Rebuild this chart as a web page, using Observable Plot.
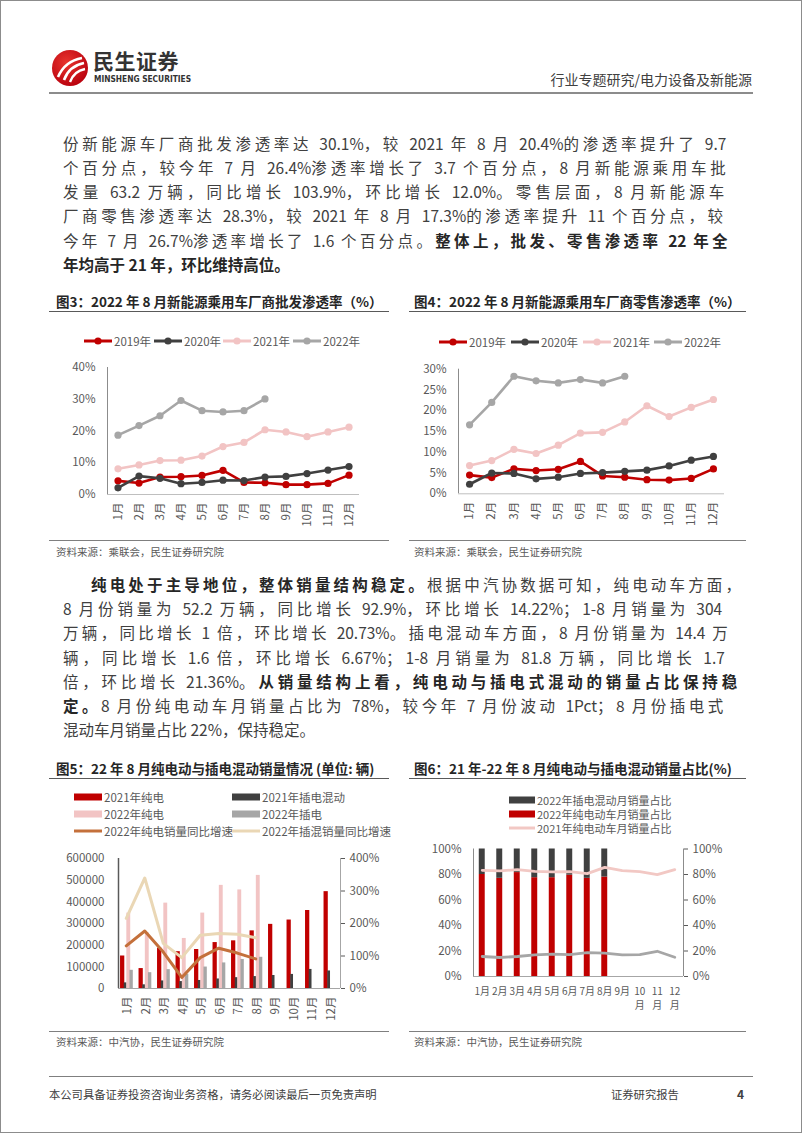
<!DOCTYPE html>
<html><head><meta charset="utf-8">
<script src="https://cdn.jsdelivr.net/npm/d3@7"></script>
<script src="https://cdn.jsdelivr.net/npm/@observablehq/plot@0.6"></script>
<style>
html,body{margin:0;padding:0;background:#fff;}
#page{position:relative;width:802px;height:1133px;box-sizing:border-box;border:1px solid #8c8c8c;overflow:hidden;font-family:"Noto Sans CJK SC","Noto Sans",sans-serif;color:#404040;}
.tl{position:absolute;left:62px;width:678px;font-size:15.5px;line-height:20px;height:20px;text-align:left;white-space:nowrap;}
.tl b{font-weight:700;color:#262626;}
.tl .a{letter-spacing:0;}
.ctitle{position:absolute;font-size:13.5px;font-weight:700;color:#262626;white-space:nowrap;line-height:18px;}
.rule{position:absolute;height:0;}
.src{position:absolute;font-size:10.5px;color:#595959;white-space:nowrap;line-height:14px;}
.leg{position:absolute;font-size:11.5px;color:#595959;white-space:nowrap;line-height:14px;height:14px;display:flex;align-items:center;}
.leg.small{font-size:11px;line-height:12px;height:12px;}
.leg svg{margin-right:2px;}
.chart{position:absolute;}
#fig6 g[aria-label="x-axis tick label"] text{font-size:10px;}
</style>
</head><body>
<div id="page">
  <svg style="position:absolute;left:48px;top:46px" width="42" height="42" viewBox="0 0 42 42">
    <defs><radialGradient id="lg" cx="0.4" cy="0.35" r="0.7"><stop offset="0" stop-color="#e8342e"/><stop offset="1" stop-color="#b8000d"/></radialGradient></defs>
    <circle cx="21" cy="21" r="18" fill="url(#lg)"/>
    <path d="M9 30 Q16 14 33 11" stroke="#fff" stroke-width="2.6" fill="none"/>
    <path d="M15 33 Q20 19 35 16" stroke="#fff" stroke-width="2.6" fill="none"/>
    <path d="M21 35 Q25 24 36 22" stroke="#fff" stroke-width="2.4" fill="none"/>
  </svg>
  <div style="position:absolute;left:92px;top:46px;font-size:21px;font-weight:700;color:#333;letter-spacing:0.5px;line-height:26px;">民生证券</div>
  <div style="position:absolute;left:93px;top:73px;font-size:8.3px;font-weight:700;color:#333;font-family:'DejaVu Sans Condensed','DejaVu Sans',sans-serif;line-height:10px;">MINSHENG SECURITIES</div>
  <div style="position:absolute;right:49px;top:68px;font-size:14px;color:#404040;line-height:20px;">行业专题研究/电力设备及新能源</div>
  <div class="rule" style="left:48px;top:91px;width:704px;border-top:2px solid #8c8c8c;"></div>

  <div class="tl j" style="top:132px">份新能源车厂商批发渗透率达 30.1%，较 2021 年 8 月 20.4%的渗透率提升了 9.7</div>
  <div class="tl j" style="top:156px">个百分点，较今年 7 月 26.4%渗透率增长了 3.7 个百分点，8 月新能源乘用车批</div>
  <div class="tl j" style="top:180px">发量 63.2 万辆，同比增长 103.9%，环比增长 12.0%。零售层面，8 月新能源车</div>
  <div class="tl j" style="top:204px">厂商零售渗透率达 28.3%，较 2021 年 8 月 17.3%的渗透率提升 11 个百分点，较</div>
  <div class="tl j" style="top:229px">今年 7 月 26.7%渗透率增长了 1.6 个百分点。<b>整体上，批发、零售渗透率 22 年全</b></div>
  <div class="tl" style="top:253px"><b>年均高于 21 年，环比维持高位。</b></div>

  <div class="ctitle" style="left:55px;top:291px">图3：2022 年 8 月新能源乘用车厂商批发渗透率（%）</div>
  <div class="ctitle" style="left:413px;top:291px">图4：2022 年 8 月新能源乘用车厂商零售渗透率（%）</div>
  <div class="rule" style="left:48px;top:310px;width:340px;border-top:1.5px solid #595959;"></div>
  <div class="rule" style="left:408px;top:310px;width:337px;border-top:1.5px solid #595959;"></div>

  <div class="rule" style="left:48px;top:539px;width:340px;border-top:1px solid #7f7f7f;"></div>
  <div class="rule" style="left:408px;top:539px;width:337px;border-top:1px solid #7f7f7f;"></div>
  <div class="src" style="left:55px;top:544px">资料来源：乘联会，民生证券研究院</div>
  <div class="src" style="left:413px;top:544px">资料来源：乘联会，民生证券研究院</div>

  <div class="tl j" style="top:573px;left:90px;width:650px"><b>纯电处于主导地位，整体销量结构稳定。</b>根据中汽协数据可知，纯电动车方面，</div>
  <div class="tl j" style="top:597px">8 月份销量为 52.2 万辆，同比增长 92.9%，环比增长 14.22%；1-8 月销量为 304</div>
  <div class="tl j" style="top:621px">万辆，同比增长 1 倍，环比增长 20.73%。插电混动车方面，8 月份销量为 14.4 万</div>
  <div class="tl j" style="top:646px">辆，同比增长 1.6 倍，环比增长 6.67%；1-8 月销量为 81.8 万辆，同比增长 1.7</div>
  <div class="tl j" style="top:670px">倍，环比增长 21.36%。<b>从销量结构上看，纯电动与插电式混动的销量占比保持稳</b></div>
  <div class="tl j" style="top:694px"><b>定。</b>8 月份纯电动车月销量占比为 78%，较今年 7 月份波动 1Pct；8 月份插电式</div>
  <div class="tl" style="top:718px">混动车月销量占比 22%，保持稳定。</div>

  <div class="ctitle" style="left:55px;top:758px">图5：22 年 8 月纯电动与插电混动销量情况 (单位: 辆)</div>
  <div class="ctitle" style="left:413px;top:758px">图6：21 年-22 年 8 月纯电动与插电混动销量占比(%)</div>
  <div class="rule" style="left:48px;top:777px;width:340px;border-top:1.5px solid #595959;"></div>
  <div class="rule" style="left:408px;top:777px;width:337px;border-top:1.5px solid #595959;"></div>

  <div class="rule" style="left:48px;top:1030px;width:340px;border-top:1px solid #7f7f7f;"></div>
  <div class="rule" style="left:408px;top:1030px;width:337px;border-top:1px solid #7f7f7f;"></div>
  <div class="src" style="left:55px;top:1034px">资料来源：中汽协，民生证券研究院</div>
  <div class="src" style="left:413px;top:1034px">资料来源：中汽协，民生证券研究院</div>

  <div class="rule" style="left:48px;top:1075px;width:704px;border-top:1.5px solid #7f7f7f;"></div>
  <div style="position:absolute;left:48px;top:1085px;font-size:11.3px;color:#404040;line-height:16px;">本公司具备证券投资咨询业务资格，请务必阅读最后一页免责声明</div>
  <div style="position:absolute;left:610px;top:1085px;font-size:11.3px;color:#404040;line-height:16px;">证券研究报告</div>
  <div style="position:absolute;left:736px;top:1085px;font-size:12px;font-weight:700;color:#404040;line-height:16px;">4</div>
</div>
<script>
// ---------- data ----------
const months = ["1月","2月","3月","4月","5月","6月","7月","8月","9月","10月","11月","12月"];
const years = ["2019年","2020年","2021年","2022年"];

// 图3 批发渗透率 (%)
const wholesale2019 = [4.3,3.6,5.5,5.6,6.0,7.6,3.8,3.7,3.1,3.1,3.5,6.1];
const wholesale2020 = [2.1,5.8,5.1,3.4,3.8,4.5,4.4,5.5,5.7,6.6,7.7,8.8];
const wholesale2021 = [8.1,9.3,10.7,10.8,12.1,15.1,16.4,20.4,19.7,18.2,19.7,21.2];
const wholesale2022 = [18.7,21.7,24.8,29.6,26.4,26.0,26.4,30.1];

// 图4 零售渗透率 (%)
const retail2019 = [4.5,3.9,6.0,5.6,5.9,7.8,4.3,4.0,3.4,3.3,3.7,6.0];
const retail2020 = [2.3,5.0,4.9,3.6,4.0,4.9,5.1,5.4,5.7,6.7,8.1,9.0];
const retail2021 = [6.8,8.0,10.7,9.7,11.7,14.6,14.8,17.3,21.2,18.6,20.8,22.7];
const retail2022 = [16.6,22.0,28.3,27.2,26.7,27.5,26.7,28.3];

// 图5 销量 (辆) and 同比 (%)
const bev2021 = [150000,92000,186000,170000,180000,212000,220000,266000,296000,316000,360000,447000];
const phev2021 = [26000,17000,35000,32000,37000,44000,50000,55000,60000,65000,88000,81000];
const bev2022 = [348000,257000,394000,231000,348000,476000,455000,522000];
const phev2022 = [84000,73000,87000,66000,99000,118000,134000,144000];
const bevYoY2022 = [131,177,112,34,95,124,109,91];
const phevYoY2022 = [216,340,139,95,164,169,167,156];
const fig5Labels = ["2021年纯电","2021年插电混动","2022年纯电","2022年插电","2022年纯电销量同比增速","2022年插混销量同比增速"];

// 图6 占比 (%)
const bevShare2022 = [80.0,77.0,81.5,77.5,77.5,79.5,77.0,78.0];
const bevShare2021 = [83.3,82.8,83.8,82.5,82.0,82.2,80.7,85.6,83.0,82.2,79.9,83.8];
const phevShare2021 = [15.7,14.9,15.7,17.0,17.5,17.2,18.8,18.3,17.0,17.2,19.8,15.1];
const fig6Labels = ["2022年插电混动月销量占比","2022年纯电动车月销量占比","2021年纯电动车月销量占比"];

// ---------- styles ----------
const FONT = '"Noto Sans CJK SC","Noto Sans",sans-serif';
const C = {red:"#c00000", dark:"#404040", pink:"#f2c4c4", gray:"#a6a6a6", brown:"#c4703b", beige:"#ead7b5", axis:"#a6a6a6", text:"#595959"};
const yearColors = [C.red, C.dark, C.pink, C.gray];
const page = document.getElementById("page");
const rows = arr => arr.map((v,i)=>({m:i+1, v}));
const monthTicks = d3.range(1,13);

// inter-character justification of body lines; Latin/digit runs stay tight
document.querySelectorAll(".tl.j").forEach(el => {
  const target = parseFloat(el.style.width || "678");
  const walker = document.createTreeWalker(el, NodeFilter.SHOW_TEXT);
  const nodes = []; while (walker.nextNode()) nodes.push(walker.currentNode);
  let units = 0;
  nodes.forEach(node => {
    const parts = node.textContent.split(/([0-9A-Za-z.%\-]+)/);
    const frag = document.createDocumentFragment();
    parts.forEach((p, i) => {
      if (!p) return;
      if (i % 2 === 1) { const s = document.createElement("span"); s.className = "a"; s.textContent = p; frag.appendChild(s); units += 1; }
      else { frag.appendChild(document.createTextNode(p)); units += p.length; }
    });
    node.parentNode.replaceChild(frag, node);
  });
  const span = document.createElement("span");
  while (el.firstChild) span.appendChild(el.firstChild);
  el.appendChild(span);
  const w = span.getBoundingClientRect().width;
  if (units > 1 && w < target) el.style.letterSpacing = ((target - w) / (units - 1)) + "px";
});

function place(el, x, y, id){
  const d = document.createElement("div");
  d.className = "chart"; d.style.left = x+"px"; d.style.top = y+"px";
  if (id) d.id = id;
  d.appendChild(el); page.appendChild(d);
}
function legend(x, y, kind, color, label, w, small){
  const d = document.createElement("div");
  d.className = "leg" + (small ? " small" : "");
  d.style.left = x+"px"; d.style.top = (y - (small ? 6 : 7))+"px";
  let sw;
  if (kind === "linedot") sw = `<svg width="${w}" height="10"><line x1="0" y1="5" x2="${w}" y2="5" stroke="${color}" stroke-width="3"/><circle cx="${w/2}" cy="5" r="3.6" fill="${color}"/></svg>`;
  else if (kind === "line") sw = `<svg width="${w}" height="10"><line x1="0" y1="5" x2="${w}" y2="5" stroke="${color}" stroke-width="3"/></svg>`;
  else sw = `<svg width="${w}" height="10"><rect x="0" y="1.5" width="${w}" height="7" fill="${color}"/></svg>`;
  d.innerHTML = sw + `<span>${label}</span>`;
  page.appendChild(d);
}
const baseStyle = {fontFamily: FONT, fontSize: "11.5px", color: C.text, background: "transparent", overflow: "visible"};

function penChart(series, yMax, yStep, w, h, m){
  const marks = [
    Plot.ruleX([0.5], {stroke: "#8c8c8c"}),
    Plot.ruleY([0], {stroke: "#bfbfbf"}),
    Plot.axisY({ticks: d3.range(0, yMax + 0.01, yStep), tickSize: 0, tickPadding: 12, tickFormat: d => d + "%", label: null}),
    Plot.axisX({ticks: monthTicks, tickSize: 0, tickPadding: 8, tickRotate: -90, tickFormat: d => months[d-1], label: null})
  ];
  series.forEach((vals, i) => {
    marks.push(Plot.line(rows(vals), {x: "m", y: "v", stroke: yearColors[i], strokeWidth: 2.6}));
    marks.push(Plot.dot(rows(vals), {x: "m", y: "v", fill: yearColors[i], r: 3.6}));
  });
  return Plot.plot({width: w, height: h, marginLeft: m[0], marginRight: m[1], marginTop: m[2], marginBottom: m[3],
    style: baseStyle, x: {domain: [0.5, 12.5]}, y: {domain: [0, yMax]}, marks});
}

// 图3
place(penChart([wholesale2019, wholesale2020, wholesale2021, wholesale2022], 40, 10, 345, 175, [58, 35, 11, 37]), 48, 355);
[83,153,222,292].forEach((x,i)=>legend(x, 340, "linedot", yearColors[i], years[i], 28));
// 图4
place(penChart([retail2019, retail2020, retail2021, retail2022], 30, 5, 340, 175, [47, 27, 12.7, 37.7]), 410, 355);
[438,510,582,653].forEach((x,i)=>legend(x, 341, "linedot", yearColors[i], years[i], 28));

// 图5
{
  const k = 600000 / 400; // right axis scale factor (400% <-> 600000)
  const bar = (arr, a, b, color) => Plot.rect(rows(arr), {x1: d => d.m + a, x2: d => d.m + b, y1: () => 0, y2: "v", fill: color});
  const fig5 = Plot.plot({
    width: 345, height: 170, marginLeft: 69, marginRight: 54, marginTop: 12, marginBottom: 28,
    style: baseStyle, x: {domain: [0.5, 12.5]}, y: {domain: [0, 600000]},
    marks: [
      bar(bev2021, -0.39, -0.16, C.red),
      bar(phev2021, -0.19, -0.04, C.dark),
      bar(bev2022, -0.05, 0.16, C.pink),
      bar(phev2022, 0.12, 0.30, C.gray),
      Plot.line(rows(bevYoY2022), {x: d => d.m - 0.08, y: d => d.v * k, stroke: C.brown, strokeWidth: 3}),
      Plot.line(rows(phevYoY2022), {x: d => d.m - 0.08, y: d => d.v * k, stroke: C.beige, strokeWidth: 3}),
      Plot.ruleX([0.5], {stroke: "#595959", strokeWidth: 1.5}),
      Plot.ruleX([12.5], {stroke: C.axis}),
      Plot.ruleY([0], {stroke: C.axis}),
      Plot.axisY({ticks: d3.range(0, 600001, 100000), tickSize: 0, tickPadding: 14, tickFormat: d => String(d), label: null}),
      Plot.axisY({anchor: "right", ticks: [0,1,2,3,4].map(i => i * 150000), tickSize: 4, tickPadding: 5, tickFormat: d => Math.round(d / k) + "%", label: null}),
      Plot.axisX({ticks: monthTicks, tickSize: 0, tickPadding: 8, tickRotate: -90, tickFormat: d => months[d-1], label: null})
    ]
  });
  place(fig5, 48, 845);
  const cols = [73, 231], ys = [796, 813, 830];
  const kinds = ["rect","rect","rect","rect","line","line"];
  const cols5 = [C.red, C.dark, C.pink, C.gray, C.brown, C.beige];
  fig5Labels.forEach((lab, i) => legend(cols[i % 2], ys[Math.floor(i / 2)], kinds[i], cols5[i], lab, 28));
}

// 图6
{
  const fig6 = Plot.plot({
    width: 340, height: 180, marginLeft: 62, marginRight: 68, marginTop: 9.5, marginBottom: 43,
    style: baseStyle, x: {domain: [0.5, 12.5]}, y: {domain: [0, 100]},
    marks: [
      Plot.rect(rows(bevShare2022), {x1: d => d.m - 0.17, x2: d => d.m + 0.17, y1: () => 0, y2: "v", fill: C.red}),
      Plot.rect(rows(bevShare2022), {x1: d => d.m - 0.17, x2: d => d.m + 0.17, y1: "v", y2: () => 100, fill: C.dark}),
      Plot.line(rows(bevShare2021), {x: "m", y: "v", stroke: "#f2c8c4", strokeWidth: 2.8}),
      Plot.line(rows(phevShare2021), {x: "m", y: "v", stroke: C.gray, strokeWidth: 2.8}),
      Plot.ruleX([0.5], {stroke: "#8c8c8c"}),
      Plot.ruleX([12.5], {stroke: "#8c8c8c"}),
      Plot.ruleY([0], {stroke: C.axis}),
      Plot.axisY({ticks: d3.range(0, 101, 20), tickSize: 0, tickPadding: 12, tickFormat: d => d + "%", label: null}),
      Plot.axisY({anchor: "right", ticks: d3.range(0, 101, 20), tickSize: 4, tickPadding: 5, tickFormat: d => d + "%", label: null}),
      Plot.axisX({ticks: monthTicks, tickSize: 0, tickPadding: 9, lineHeight: 1.4,
        tickFormat: d => d >= 10 ? months[d-1].replace("月", "\n月") : months[d-1], label: null})
    ]
  });
  place(fig6, 410, 838, "fig6");
  const k6 = ["rect","rect","line"], c6 = [C.dark, C.red, "#f2c8c4"], y6 = [799, 813, 827];
  fig6Labels.forEach((lab, i) => legend(508, y6[i], k6[i], c6[i], lab, 26, true));
}
</script>
</body></html>
